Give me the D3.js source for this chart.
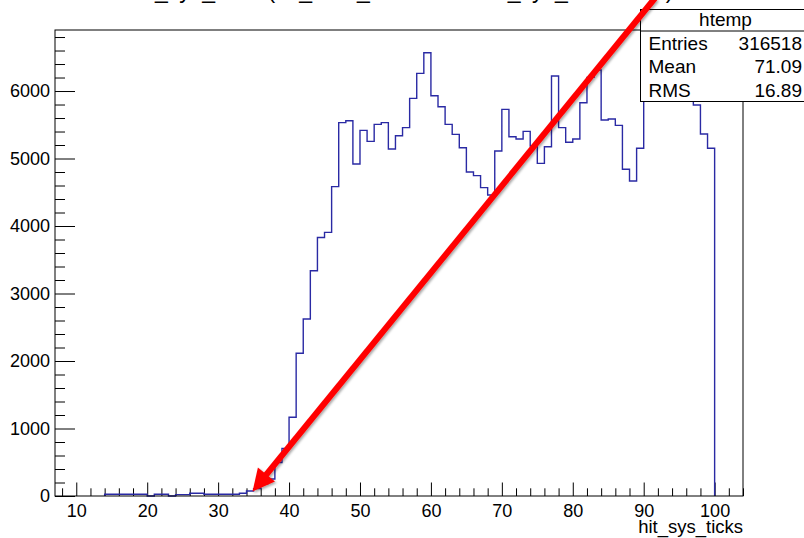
<!DOCTYPE html>
<html>
<head>
<meta charset="utf-8">
<script src="https://cdn.jsdelivr.net/npm/d3@7"></script>
<style>
  body { margin: 0; background: #fff; }
  svg { display: block; font-family: "Liberation Sans", Arial, Helvetica, sans-serif; }
</style>
</head>
<body>
<div class="viz"></div>
<script>
// histogram: one bin per unit, first bin starts at 14
const firstBin = 14
const counts = [
    25, 25, 25, 25, 25, 25, 0, 25, 25, 0,            // 14-23
    20, 20, 40, 40, 25, 25, 25, 25, 25, 40,          // 24-33
    75, 110, 180, 252, 494, 706, 1166, 2114, 2622, 3338, // 34-43
    3830, 3905, 4583, 5531, 5560, 4919, 5417, 5254, 5506, 5531, // 44-53
    5141, 5338, 5457, 5891, 6262, 6568, 5931, 5768, 5506, 5358, // 54-63
    5160, 4800, 4746, 4568, 4459, 5111, 5728, 5323, 5289, 5402, // 64-73
    5185, 4928, 5175, 6222, 5457, 5240, 5289, 5827, 6202, 6311, // 74-83
    5570, 5585, 5491, 4840, 4667, 5151, 6100, 6350, 6450, 6200, // 84-93
    6300, 6050, 5950, 5793, 5363, 5151                // 94-99
]

const xRange = [7, 104]
const yMax = 6904
const xMajorTicks = [10, 20, 30, 40, 50, 60, 70, 80, 90, 100]
const yMajorTicks = [0, 1000, 2000, 3000, 4000, 5000, 6000]

const statsTitle = "htemp"
const statsNames = ["Entries", "Mean", "RMS"]
const statsValues = ["316518", "71.09", "16.89"]

const histTitle = "hit_sys_ticks (hit_mod_id == 0 && hit_sys_ticks > 10)"
const xLabel = "hit_sys_ticks"

// arrow annotation, in data units (tail is off the top of the page)
const arrowTail = [91.6, 7378]
const arrowTip = [34.85, 67]

var width = 804, height = 538
var margin = { top: 30, left: 55, right: 61, bottom: 42 }
var fw = width - margin.left - margin.right
var fh = height - margin.top - margin.bottom

var svg = d3.select('.viz').append('svg')
    .attr('width', width)
    .attr('height', height)

var defs = svg.append('defs')
var shadow = defs.append('filter').attr('id', 'shadow')
    .attr('x', '-10%').attr('y', '-10%').attr('width', '120%').attr('height', '120%')
shadow.append('feDropShadow')
    .attr('dx', 1.5).attr('dy', 1.5).attr('stdDeviation', 1.2)
    .attr('flood-color', '#000').attr('flood-opacity', 0.35)

var x = d3.scaleLinear().domain(xRange).range([0, fw])
var y = d3.scaleLinear().domain([0, yMax]).range([fh, 0])

var g = svg.append('g')
    .attr('transform', 'translate(' + margin.left + ',' + margin.top + ')')

// title, mostly cut off at the top of the canvas (as in the original)
svg.append('text')
    .attr('x', width / 2)
    .attr('y', -2)
    .attr('text-anchor', 'middle')
    .style('font-size', '23px')
    .attr('fill', '#000')
    .text(histTitle)

// x axis: majors every 10, minors every 2
var xMinor = d3.range(8, 105, 2).filter(function(d){ return d % 10 !== 0 })
g.append('g')
    .attr('transform', 'translate(0,' + fh + ')')
    .call(d3.axisBottom(x).tickValues(xMinor).tickFormat('').tickSizeInner(-7.7).tickSizeOuter(0))
    .call(function(a){ a.select('.domain').remove() })
g.append('g')
    .attr('class', 'x-axis')
    .attr('transform', 'translate(0,' + fh + ')')
    .call(d3.axisBottom(x).tickValues(xMajorTicks).tickSizeInner(-13.5).tickSizeOuter(0).tickPadding(8))
    .call(function(a){ a.select('.domain').remove() })

// y axis: majors every 1000, minors every 200
var yMinor = d3.range(200, yMax, 200).filter(function(d){ return d % 1000 !== 0 })
g.append('g')
    .call(d3.axisLeft(y).tickValues(yMinor).tickFormat('').tickSizeInner(-10).tickSizeOuter(0))
    .call(function(a){ a.select('.domain').remove() })
g.append('g')
    .attr('class', 'y-axis')
    .call(d3.axisLeft(y).tickValues(yMajorTicks).tickFormat(d3.format('d')).tickSizeInner(-20).tickSizeOuter(0).tickPadding(5))
    .call(function(a){ a.select('.domain').remove() })

g.selectAll('.tick line').attr('stroke', '#000').attr('stroke-width', 1)
g.selectAll('.tick text').style('font-size', '18px').attr('fill', '#000')
    .style('font-family', '"Liberation Sans", Arial, Helvetica, sans-serif')

// histogram outline
var pts = [[firstBin, 0]]
counts.forEach(function(c, i){ pts.push([firstBin + i, c]) })
pts.push([firstBin + counts.length, counts[counts.length - 1]])
pts.push([firstBin + counts.length, 0])

var line = d3.line()
    .x(function(d){ return x(d[0]) })
    .y(function(d){ return y(d[1]) })
    .curve(d3.curveStepAfter)

g.append('path')
    .datum(pts)
    .attr('d', line)
    .attr('fill', 'none')
    .attr('stroke', '#2a2aa4')
    .attr('stroke-width', 1.4)

// frame
g.append('rect')
    .attr('width', fw).attr('height', fh)
    .attr('fill', 'none').attr('stroke', '#000').attr('stroke-width', 1)

// x axis title
svg.append('text')
    .attr('x', margin.left + fw)
    .attr('y', 532.5)
    .attr('text-anchor', 'end')
    .style('font-size', '18.5px')
    .text(xLabel)

// stats box
var box = svg.append('g').attr('transform', 'translate(640.5,9.5)')
box.append('rect')
    .attr('width', 175).attr('height', 92)
    .attr('fill', '#fff').attr('stroke', '#000').attr('stroke-width', 1)
box.append('line')
    .attr('x1', 0).attr('x2', 175).attr('y1', 21.5).attr('y2', 21.5)
    .attr('stroke', '#000')
box.append('text')
    .attr('x', 85).attr('y', 16.5)
    .attr('text-anchor', 'middle')
    .style('font-size', '19px')
    .text(statsTitle)
statsNames.forEach(function(name, i){
    box.append('text')
        .attr('x', 8).attr('y', 40 + i * 23.7)
        .style('font-size', '19px')
        .text(name)
    box.append('text')
        .attr('x', 161.5).attr('y', 40 + i * 23.7)
        .attr('text-anchor', 'end')
        .style('font-size', '19px')
        .text(statsValues[i])
})

// red arrow
var tail = [margin.left + x(arrowTail[0]), margin.top + y(arrowTail[1])]
var tip = [margin.left + x(arrowTip[0]), margin.top + y(arrowTip[1])]
var ang = Math.atan2(tip[1] - tail[1], tip[0] - tail[0])
var headLen = 22, headHalf = 11
var base = [tip[0] - headLen * Math.cos(ang), tip[1] - headLen * Math.sin(ang)]
var arrow = svg.append('g').attr('filter', 'url(#shadow)')
arrow.append('line')
    .attr('x1', tail[0]).attr('y1', tail[1])
    .attr('x2', base[0] + 3 * Math.cos(ang)).attr('y2', base[1] + 3 * Math.sin(ang))
    .attr('stroke', '#ff0000').attr('stroke-width', 6)
arrow.append('path')
    .attr('d', 'M' + tip[0] + ',' + tip[1]
        + 'L' + (base[0] + headHalf * Math.sin(ang)) + ',' + (base[1] - headHalf * Math.cos(ang))
        + 'L' + (base[0] - headHalf * Math.sin(ang)) + ',' + (base[1] + headHalf * Math.cos(ang)) + 'Z')
    .attr('fill', '#ff0000')
</script>
</body>
</html>
